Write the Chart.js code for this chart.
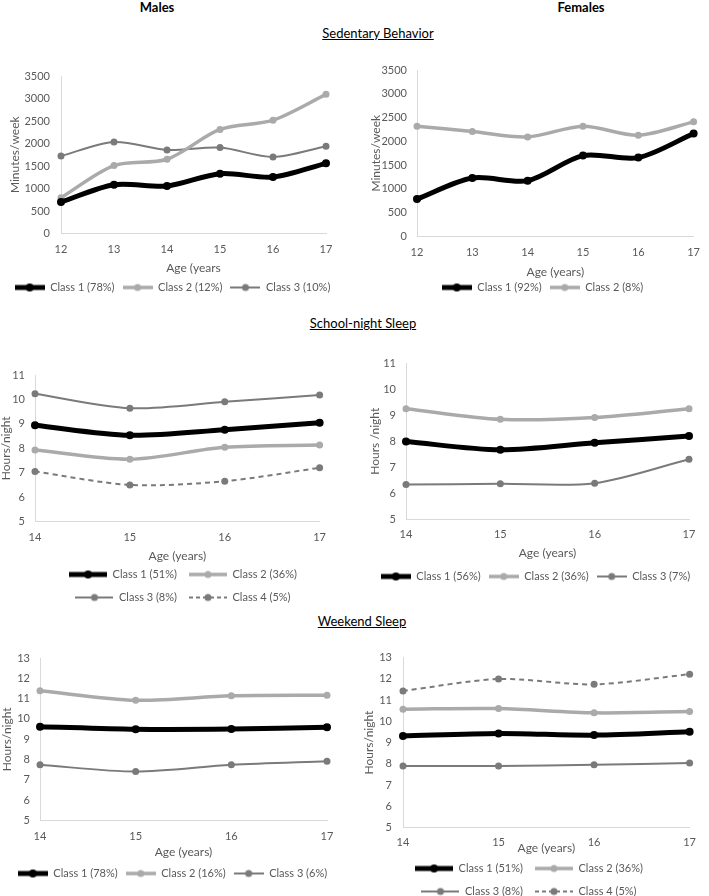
<!DOCTYPE html>
<html>
<head>
<meta charset="utf-8">
<script src="https://cdn.jsdelivr.net/npm/chart.js@4.4.1/dist/chart.umd.min.js"></script>
<style>
  body { margin: 0; background: #fff; width: 709px; height: 896px; position: relative; overflow: hidden; font-family: Lato, "Open Sans", sans-serif; }
  .t { position: absolute; transform: translate(-50%, -50%); white-space: nowrap; color: #000; }
  .sec { font-size: 13px; text-decoration: underline; }
  canvas { position: absolute; }
</style>
</head>
<body>
<div class="t" style="left:157px;top:7px;font-weight:bold;font-size:13px">Males</div>
<div class="t" style="left:581px;top:7px;font-weight:bold;font-size:13px">Females</div>
<div class="t sec" style="left:378px;top:33px">Sedentary Behavior</div>
<div class="t sec" style="left:363px;top:323px">School-night Sleep</div>
<div class="t sec" style="left:362px;top:621px">Weekend Sleep</div>

<script>
// ---- data ----
const sedAges = ['12', '13', '14', '15', '16', '17'];
const sleepAges = ['14', '15', '16', '17'];

// Sedentary behaviour, minutes/week
const maleSedNames = ['Class 1 (78%)', 'Class 2 (12%)', 'Class 3 (10%)'];
const maleSed1 = [700, 1085, 1055, 1330, 1255, 1560];
const maleSed2 = [796, 1509, 1650, 2312, 2519, 3092];
const maleSed3 = [1723, 2035, 1857, 1910, 1701, 1939];

const femSedNames = ['Class 1 (92%)', 'Class 2 (8%)'];
const femSed1 = [786, 1229, 1174, 1701, 1659, 2165];
const femSed2 = [2319, 2207, 2094, 2319, 2130, 2410];

// School-night sleep, hours/night
const maleSchoolNames = ['Class 1 (51%)', 'Class 2 (36%)', 'Class 3 (8%)', 'Class 4 (5%)'];
const maleSchool1 = [8.94, 8.53, 8.76, 9.04];
const maleSchool2 = [7.93, 7.55, 8.04, 8.13];
const maleSchool3 = [10.23, 9.64, 9.9, 10.18];
const maleSchool4 = [7.05, 6.5, 6.65, 7.2];

const femSchoolNames = ['Class 1 (56%)', 'Class 2 (36%)', 'Class 3 (7%)'];
const femSchool1 = [7.99, 7.67, 7.94, 8.2];
const femSchool2 = [9.25, 8.84, 8.91, 9.25];
const femSchool3 = [6.34, 6.37, 6.39, 7.31];

// Weekend sleep, hours/night
const maleWkndNames = ['Class 1 (78%)', 'Class 2 (16%)', 'Class 3 (6%)'];
const maleWknd1 = [9.62, 9.49, 9.5, 9.59];
const maleWknd2 = [11.39, 10.92, 11.14, 11.17];
const maleWknd3 = [7.74, 7.41, 7.74, 7.92];

const femWkndNames = ['Class 1 (51%)', 'Class 2 (36%)', 'Class 3 (8%)', 'Class 4 (5%)'];
const femWknd1 = [9.31, 9.43, 9.35, 9.51];
const femWknd2 = [10.57, 10.6, 10.4, 10.46];
const femWknd3 = [7.89, 7.9, 7.95, 8.04];
const femWknd4 = [11.43, 11.99, 11.74, 12.22];

// ---- styling ----
const FONT = 'Lato, "Open Sans", sans-serif';
const TEXT = '#595959';
const AXIS = '#d9d9d9';
const STYLES = [
  { color: '#000000', width: 5, r: 4 },
  { color: '#aaaaaa', width: 3.5, r: 3.5 },
  { color: '#7a7a7a', width: 2, r: 3.5 },
  { color: '#7a7a7a', width: 2, r: 3.5, dash: [5, 4] }
];

// small line-with-dot icon, like the spreadsheet legend
function legendIcon(st, w) {
  const c = document.createElement('canvas');
  c.width = w; c.height = 12;
  const g = c.getContext('2d');
  g.strokeStyle = st.color;
  g.lineWidth = st.width;
  if (st.dash) g.setLineDash([4, 3]);
  g.beginPath(); g.moveTo(0, 6); g.lineTo(w, 6); g.stroke();
  g.fillStyle = st.color;
  g.beginPath(); g.arc(w / 2, 6, st.r, 0, Math.PI * 2); g.fill();
  return c;
}

// width of the widest y tick label (needed when labels are mirrored)
function textWidth(str, size) {
  const g = document.createElement('canvas').getContext('2d');
  g.font = size + 'px ' + FONT;
  return g.measureText(str).width;
}

function drawPanel(p) {
  const fs = 11;
  const padL = p.padL || 0;
  const legendTop = p.legendY - p.pad - fs / 2;
  const legendH = p.rows * (fs + p.pad) + 10;
  const cv = document.createElement('canvas');
  cv.width = p.cell.w;
  cv.height = Math.round(legendTop + legendH - p.cell.y);
  cv.style.left = p.cell.x + 'px';
  cv.style.top = p.cell.y + 'px';
  document.body.appendChild(cv);

  const icons = p.series.map((v, i) => legendIcon(STYLES[i], p.iconW));
  const datasets = p.series.map((vals, i) => {
    const st = STYLES[i];
    return {
      label: p.names[i],
      data: vals,
      borderColor: st.color,
      backgroundColor: st.color,
      borderWidth: st.width,
      borderDash: st.dash || [],
      pointRadius: st.r,
      pointHoverRadius: st.r,
      pointBackgroundColor: st.color,
      pointBorderWidth: 0,
      tension: 0.3,
      fill: false,
      clip: false,
      yAxisID: 'y'
    };
  });

  // y labels: normal, or mirrored so they are not clipped when the axis box is narrow
  const yTicks = {
    stepSize: p.step, color: TEXT, font: { family: FONT, size: 11 },
    padding: p.plot.l - p.yLabelR,
    callback: (v) => String(v)
  };
  if (p.mirror) {
    yTicks.mirror = true;
    yTicks.crossAlign = 'far';
    yTicks.padding = p.yLabelR - p.plot.l - textWidth(String(p.yMax), 11);
  }

  new Chart(cv, {
    type: 'line',
    data: { labels: p.ages, datasets },
    options: {
      responsive: false,
      animation: false,
      layout: { padding: { left: padL, right: 0, top: p.plot.t - p.cell.y, bottom: 0 } },
      plugins: {
        tooltip: { enabled: false },
        legend: {
          position: 'bottom',
          labels: {
            usePointStyle: true,
            pointStyleWidth: p.iconW,
            padding: p.pad,
            color: TEXT,
            font: { family: FONT, size: fs },
            generateLabels: (chart) =>
              Chart.defaults.plugins.legend.labels.generateLabels(chart)
                .map((it, i) => Object.assign(it, { pointStyle: icons[i] }))
          }
        }
      },
      scales: {
        x: {
          type: 'category',
          offset: false,
          grid: { display: false, drawTicks: false },
          border: { display: true, color: AXIS },
          ticks: { color: TEXT, font: { family: FONT, size: 11 }, padding: p.xLabelY - p.plot.b - 6, maxRotation: 0, autoSkip: false },
          title: {
            display: true, text: p.xTitle, color: TEXT, font: { family: FONT, size: 12 },
            padding: { top: 0, bottom: legendTop - p.xTitleY - 7.2 }
          },
          afterFit: (s) => { s.height = legendTop - p.plot.b; }
        },
        y: {
          min: p.yMin, max: p.yMax,
          grid: { display: false, drawTicks: false },
          border: { display: true, color: AXIS },
          ticks: yTicks,
          title: {
            display: true, text: p.yTitle, color: TEXT, font: { family: FONT, size: 12 },
            padding: { top: p.yTitleX - p.cell.x - padL - 7.2, bottom: 0 }
          },
          afterFit: (s) => { s.width = p.plot.l - p.cell.x - padL; }
        },
        yR: {
          type: 'linear', position: 'right', display: true,
          grid: { display: false, drawTicks: false },
          border: { display: false },
          ticks: { display: false },
          afterFit: (s) => { s.width = p.cell.x + p.cell.w - p.plot.r; }
        }
      }
    }
  });
}

// ---- panels ----
drawPanel({
  cell: { x: 0, y: 50, w: 345 }, plot: { l: 61, r: 326, t: 76, b: 233 },
  ages: sedAges, series: [maleSed1, maleSed2, maleSed3], names: maleSedNames,
  yMin: 0, yMax: 3500, step: 500, yTitle: 'Minutes/week', xTitle: 'Age (years',
  xLabelY: 248, xTitleY: 268, legendY: 287, rows: 1, pad: 8, iconW: 30,
  yTitleX: 15, yLabelR: 50
});
drawPanel({
  cell: { x: 354, y: 50, w: 355 }, plot: { l: 417, r: 702, t: 70, b: 236 }, padL: 22,
  ages: sedAges, series: [femSed1, femSed2], names: femSedNames,
  yMin: 0, yMax: 3500, step: 500, yTitle: 'Minutes/week', xTitle: 'Age (years)',
  xLabelY: 251, xTitleY: 272, legendY: 287, rows: 1, pad: 8, iconW: 30,
  yTitleX: 376, yLabelR: 407
});
drawPanel({
  cell: { x: 0, y: 345, w: 335 }, plot: { l: 35, r: 327, t: 375, b: 521 }, padL: 31, mirror: true,
  ages: sleepAges, series: [maleSchool1, maleSchool2, maleSchool3, maleSchool4], names: maleSchoolNames,
  yMin: 5, yMax: 11, step: 1, yTitle: 'Hours/night', xTitle: 'Age (years)',
  xLabelY: 536, xTitleY: 556, legendY: 574, rows: 2, pad: 12, iconW: 38,
  yTitleX: 6, yLabelR: 25
});
drawPanel({
  cell: { x: 354, y: 345, w: 355 }, plot: { l: 406, r: 689, t: 363, b: 519 }, padL: 8,
  ages: sleepAges, series: [femSchool1, femSchool2, femSchool3], names: femSchoolNames,
  yMin: 5, yMax: 11, step: 1, yTitle: 'Hours /night', xTitle: 'Age (years)',
  xLabelY: 533, xTitleY: 553, legendY: 576, rows: 1, pad: 8, iconW: 30,
  yTitleX: 375, yLabelR: 396
});
drawPanel({
  cell: { x: 0, y: 640, w: 345 }, plot: { l: 40, r: 327, t: 658, b: 820 },
  ages: sleepAges, series: [maleWknd1, maleWknd2, maleWknd3], names: maleWkndNames,
  yMin: 5, yMax: 13, step: 1, yTitle: 'Hours/night', xTitle: 'Age (years)',
  xLabelY: 835, xTitleY: 852, legendY: 873, rows: 1, pad: 8, iconW: 30,
  yTitleX: 7, yLabelR: 30
});
drawPanel({
  cell: { x: 354, y: 640, w: 350 }, plot: { l: 403, r: 696, t: 656, b: 827 },
  ages: sleepAges, series: [femWknd1, femWknd2, femWknd3, femWknd4], names: femWkndNames,
  yMin: 5, yMax: 13, step: 1, yTitle: 'Hours/night', xTitle: 'Age (years)',
  xLabelY: 841, xTitleY: 848, legendY: 868, rows: 2, pad: 12, iconW: 38,
  yTitleX: 369, yLabelR: 392
});
</script>
</body>
</html>
